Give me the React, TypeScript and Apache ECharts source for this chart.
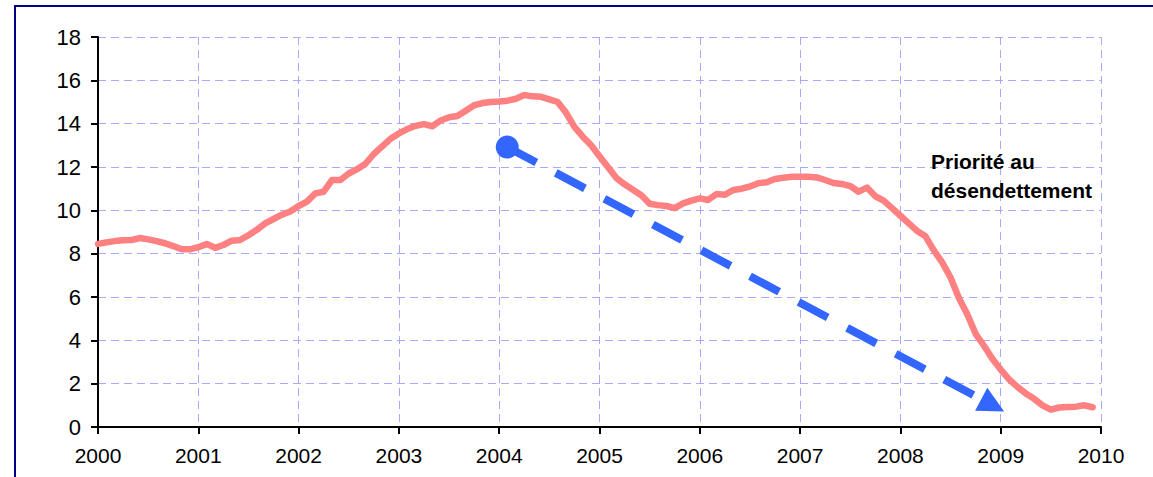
import React, { useEffect, useRef } from "react";
import * as echarts from "echarts";

// Monthly values, Jan 2000 .. Dec 2009
const startYear = 2000;
const seriesValues: number[] = [
  // 2000
  8.45, 8.52, 8.58, 8.62, 8.63, 8.72, 8.66, 8.58, 8.48, 8.35, 8.2, 8.2,
  // 2001
  8.3, 8.45, 8.27, 8.4, 8.6, 8.63, 8.85, 9.1, 9.4, 9.6, 9.8, 9.95,
  // 2002
  10.2, 10.4, 10.78, 10.86, 11.4, 11.4, 11.7, 11.9, 12.15, 12.6, 12.95, 13.3,
  // 2003
  13.55, 13.75, 13.9, 13.98, 13.88, 14.15, 14.3, 14.35, 14.6, 14.85, 14.95, 15.0,
  // 2004
  15.02, 15.06, 15.15, 15.32, 15.26, 15.24, 15.12, 15.0, 14.5, 13.85, 13.4, 13.0,
  // 2005
  12.5, 12.0, 11.5, 11.2, 10.95, 10.7, 10.3, 10.24, 10.2, 10.1, 10.32, 10.45,
  // 2006
  10.55, 10.48, 10.75, 10.72, 10.94, 11.0, 11.1, 11.25, 11.3, 11.45, 11.5, 11.55,
  // 2007
  11.55, 11.55, 11.52, 11.4, 11.26, 11.22, 11.12, 10.86, 11.05, 10.65, 10.45, 10.1,
  // 2008
  9.75, 9.4, 9.05, 8.8, 8.15, 7.6, 6.9, 5.95, 5.2, 4.3, 3.75, 3.15,
  // 2009
  2.65, 2.2, 1.85, 1.55, 1.3, 1.0, 0.8, 0.9, 0.92, 0.94, 1.0, 0.91,
];

const xTicks: number[] = [2000, 2001, 2002, 2003, 2004, 2005, 2006, 2007, 2008, 2009, 2010];
const yTicks: number[] = [0, 2, 4, 6, 8, 10, 12, 14, 16, 18];

// Arrow annotation: start (circle) and end (arrow head) in data units
const arrowStart: [number, number] = [2004.08, 12.92];
const arrowEnd: [number, number] = [2008.92, 1.0];

const annotationText = "Priorité au\ndésendettement";

export default function App() {
  const ref = useRef<HTMLDivElement>(null);

  useEffect(() => {
    document.body.style.margin = "0";
    if (!ref.current) return;
    const chart = echarts.init(ref.current, undefined, { renderer: "svg" });
    const data = seriesValues.map((v, i) => [startYear + i / 12, v]);
    const font = "'Liberation Sans', Arial, sans-serif";
    const gridStyle = { color: "#a8a8ff", width: 1, type: [8, 5] as any };

    chart.setOption({
      animation: false,
      backgroundColor: "#ffffff",
      grid: { left: 98, right: 52, top: 37, bottom: 50, containLabel: false },
      xAxis: {
        type: "value",
        min: xTicks[0],
        max: xTicks[xTicks.length - 1],
        interval: 1,
        axisLine: { show: true, onZero: false, lineStyle: { color: "#000", width: 2 } },
        axisTick: { show: true, inside: false, length: 7, lineStyle: { color: "#000", width: 2 } },
        axisLabel: {
          color: "#000",
          fontSize: 21,
          fontFamily: font,
          margin: 18,
          formatter: (v: number) => String(Math.round(v)),
        },
        splitLine: { show: true, lineStyle: gridStyle },
      },
      yAxis: {
        type: "value",
        min: yTicks[0],
        max: yTicks[yTicks.length - 1],
        interval: 2,
        axisLine: { show: true, lineStyle: { color: "#000", width: 2 } },
        axisTick: { show: true, inside: false, length: 7, lineStyle: { color: "#000", width: 2 } },
        axisLabel: { color: "#000", fontSize: 22, fontFamily: font, margin: 17 },
        splitLine: { show: true, lineStyle: gridStyle },
      },
      series: [
        {
          type: "line",
          data,
          showSymbol: false,
          symbol: "none",
          smooth: false,
          lineStyle: { color: "#ff8080", width: 6.5, cap: "round", join: "round" },
          z: 3,
          markLine: {
            silent: true,
            animation: false,
            label: { show: false },
            lineStyle: { color: "#3366ff", width: 8, type: [33, 22], cap: "butt" },
            data: [
              [
                { coord: arrowStart, symbol: "circle", symbolSize: 23 },
                { coord: arrowEnd, symbol: "triangle", symbolSize: [26, 26] },
              ],
            ],
          },
        },
      ],
      graphic: [
        {
          type: "rect",
          shape: { x: 15, y: 6, width: 1300, height: 600 },
          style: { fill: "none", stroke: "#000080", lineWidth: 2 },
          silent: true,
          z: 10,
        },
        {
          type: "text",
          left: 931,
          top: 147,
          style: {
            text: annotationText,
            fill: "#000",
            fontSize: 21,
            fontWeight: "bold",
            fontFamily: font,
            lineHeight: 29,
          },
          z: 10,
        },
      ],
    });
    return () => chart.dispose();
  }, []);

  return <div ref={ref} style={{ width: 1153, height: 477 }} />;
}
